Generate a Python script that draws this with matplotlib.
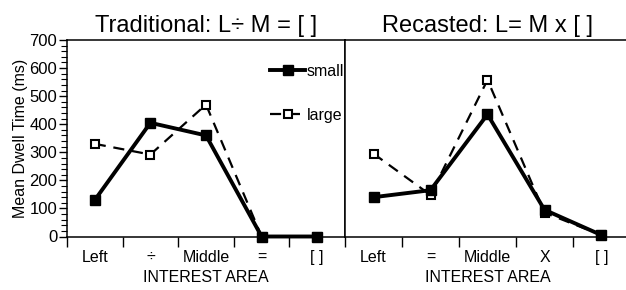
import numpy as np
import matplotlib
matplotlib.use("Agg")
import matplotlib.pyplot as plt
from matplotlib.ticker import MultipleLocator, FixedLocator

plt.rcParams['font.family'] = ['Liberation Sans', 'DejaVu Sans']

# Traditional: L ÷ M = [ ]
trad_labels = ["Left", "÷", "Middle", "=", "[ ]"]
trad_small = [130, 405, 360, 0, 0]
trad_large = [330, 292, 470, 0, 0]

# Recasted: L = M x [ ]
rec_labels = ["Left", "=", "Middle", "X", "[ ]"]
rec_small = [140, 165, 435, 95, 5]
rec_large = [295, 148, 558, 85, 5]

fig = plt.figure(figsize=(6.26, 2.9), dpi=100)
W, H = 626, 290
ax1 = fig.add_axes([67 / W, (H - 236.5) / H, 278 / W, 196.5 / H])
ax2 = fig.add_axes([345 / W, (H - 236.5) / H, 285 / W, 196.5 / H])


def draw(ax, labels, small, large, title):
    x = np.arange(len(labels))
    ax.plot(x, large, color="black", lw=1.6, ls=(0, (5, 3.5)), marker="s",
            ms=6, mfc="white", mec="black", mew=1.5, clip_on=False, zorder=3,
            label="large")
    ax.plot(x, small, color="black", lw=2.8, marker="s", ms=7.5,
            mfc="black", mec="black", clip_on=False, zorder=4, label="small")
    ax.set_xlim(-0.5, len(labels) - 0.5)
    ax.set_ylim(0, 700)
    ax.xaxis.set_major_locator(FixedLocator(np.arange(-0.5, len(labels) - 0.5)))
    ax.xaxis.set_minor_locator(FixedLocator(x))
    ax.set_xticklabels([], minor=False)
    ax.set_xticklabels(labels, minor=True, fontsize=11.5)
    ax.tick_params(axis="x", which="major", direction="out", length=7.5, width=1)
    ax.tick_params(axis="x", which="minor", length=0, pad=9.5)
    ax.set_xlabel("INTEREST AREA", fontsize=11.5, labelpad=4)
    ax.set_title(title, fontsize=17, pad=6)
    for s in ax.spines.values():
        s.set_linewidth(1.1)


draw(ax1, trad_labels, trad_small, trad_large, "Traditional: L÷ M = [ ]")
draw(ax2, rec_labels, rec_small, rec_large, "Recasted: L= M x [ ]")

ax1.yaxis.set_major_locator(MultipleLocator(100))
ax1.yaxis.set_minor_locator(MultipleLocator(20))
ax1.tick_params(axis="y", which="major", direction="out", length=6, width=1,
                labelsize=12, pad=1)
ax1.tick_params(axis="y", which="minor", direction="out", length=4, width=0.8)
ax1.set_ylabel("Mean Dwell Time (ms)", fontsize=11.5, labelpad=1)

ax2.set_yticks([])

h, l = ax1.get_legend_handles_labels()
ax1.legend(h[::-1], l[::-1], loc="upper right", bbox_to_anchor=(1.02, 0.91),
           frameon=False, fontsize=11.5, handlelength=2.2, handletextpad=0.1,
           labelspacing=1.8, borderaxespad=0)

fig.savefig("out.png", dpi=100)
